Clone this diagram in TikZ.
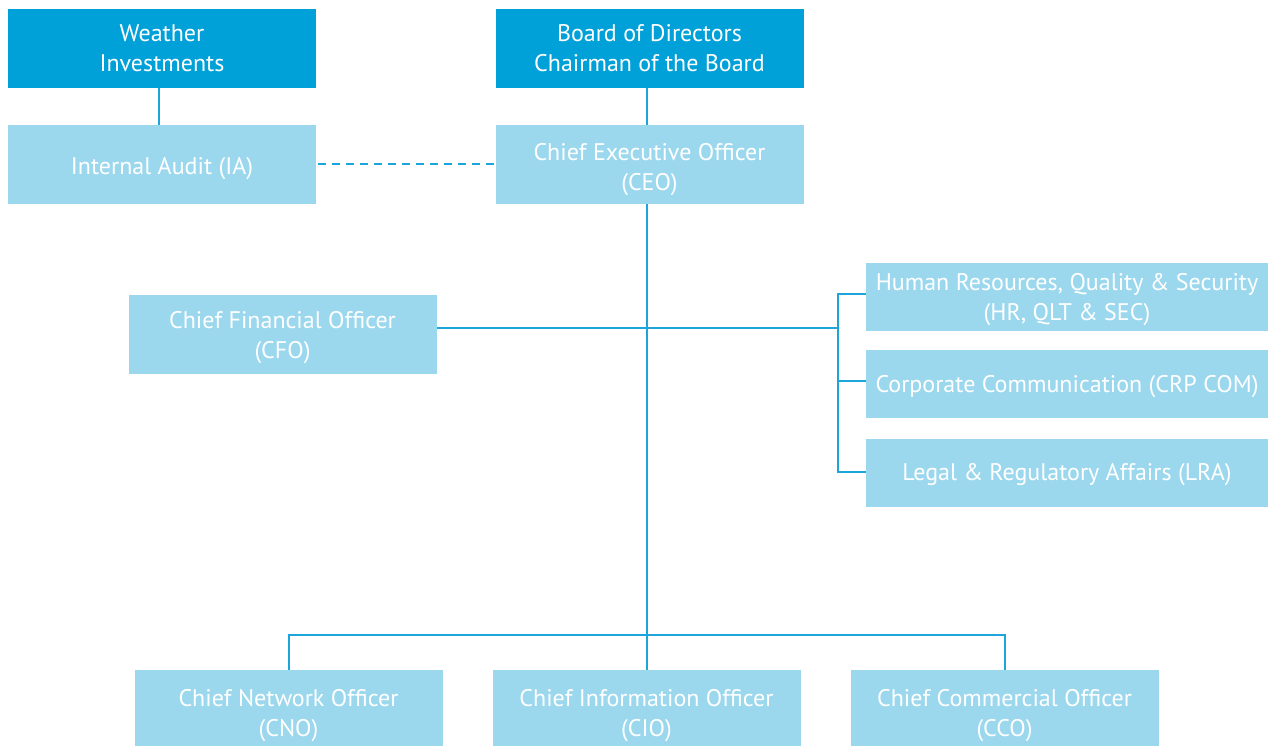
\documentclass[tikz,border=0pt]{standalone}
\usepackage{fontspec}
\setmainfont{PT Sans}
\begin{document}
\begin{tikzpicture}[x=1pt,y=-1pt,
  txt/.style={font=\fontsize{24}{30}\selectfont, text=white, align=center, inner sep=0pt},
  darkbox/.style={rectangle, fill=topblue, minimum width=308pt, minimum height=79pt, inner sep=0pt},
  lightbox/.style={rectangle, fill=boxblue, minimum width=308pt, minimum height=79pt, inner sep=0pt},
  sidebox/.style={rectangle, fill=boxblue, minimum width=402pt, minimum height=68pt, inner sep=0pt},
  link/.style={draw=lineblue, line width=2pt},
]
\definecolor{topblue}{HTML}{00A0D8}
\definecolor{boxblue}{HTML}{9BD8EE}
\definecolor{lineblue}{HTML}{1BA5DA}
\useasboundingbox (0,0) rectangle (1269,746);
\clip (0,0) rectangle (1269,746);

\node[darkbox] (wi) at (162,48.5) {};
\node[txt] (wi-t) at (wi.center) {Weather\\Investments};
\node[darkbox] (bod) at (649.5,48.5) {};
\node[txt] (bod-t) at (bod.center) {Board of Directors\\Chairman of the Board};
\node[lightbox] (ia) at (162,164.5) {};
\node[txt] (ia-t) at ([yshift=-4pt]ia.center) {Internal Audit (IA)};
\node[lightbox] (ceo) at (649.5,164.5) {};
\node[txt] (ceo-t) at ([yshift=-5pt]ceo.center) {Chief Executive Officer\\(CEO)};
\node[lightbox] (cfo) at (282.5,334.5) {};
\node[txt] (cfo-t) at ([yshift=-3pt]cfo.center) {Chief Financial Officer\\(CFO)};
\node[sidebox] (hr) at (1067,296.5) {};
\node[txt] (hr-t) at ([yshift=-3pt]hr.center) {Human Resources, Quality \& Security\\(HR, QLT \& SEC)};
\node[sidebox] (crp) at (1067,384) {};
\node[txt] (crp-t) at ([yshift=-3pt]crp.center) {Corporate Communication (CRP COM)};
\node[sidebox] (lra) at (1067,473) {};
\node[txt] (lra-t) at ([yshift=-2pt]lra.center) {Legal \& Regulatory Affairs (LRA)};
\node[lightbox] (cno) at (288.5,709.5) {};
\node[txt] (cno-t) at ([yshift=-6pt]cno.center) {Chief Network Officer\\(CNO)};
\node[lightbox] (cio) at (646.5,709.5) {};
\node[txt] (cio-t) at ([yshift=-6pt]cio.center) {Chief Information Officer\\(CIO)};
\node[lightbox] (cco) at (1004.5,709.5) {};
\node[txt] (cco-t) at ([yshift=-6pt]cco.center) {Chief Commercial Officer\\(CCO)};

\coordinate (ceoX) at (647,0);
\coordinate (junc) at (838,328);
\coordinate (bar) at (647,634.5);

\draw[link] (wi.south -| 159,0) -- (ia.north -| 159,0);
\draw[link] (bod.south -| ceoX) -- (ceo.north -| ceoX);
\draw[link, dash pattern=on 8pt off 6pt, dash phase=-2pt] (ia.east) -- (ceo.west);
\draw[link] (ceo.south -| ceoX) -- (cio.north -| ceoX);
\draw[link] (cfo.east |- junc) -- (junc);
\draw[link] (hr.west |- 0,294) -- (838,294) -- (838,472) -- (lra.west |- 0,472);
\draw[link] (crp.west |- 0,381) -- (838,381);
\draw[link] (cno.north) -- (cno.north |- bar) -- (cco.north |- bar) -- (cco.north);
\end{tikzpicture}
\end{document}
